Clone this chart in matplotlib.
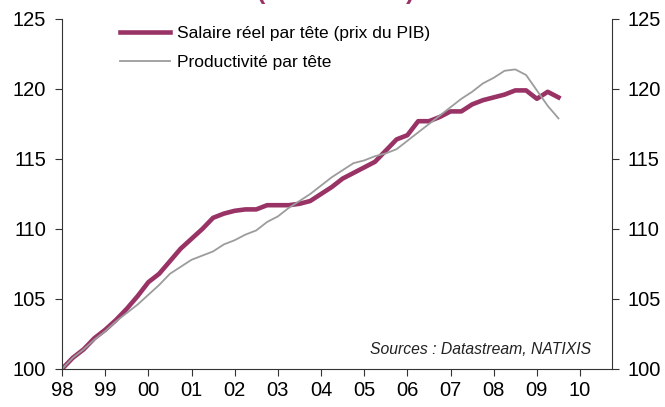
import numpy as np
import matplotlib.pyplot as plt

plt.rcParams['font.family'] = ['Liberation Sans', 'DejaVu Sans']

# trimestriel, 1998T1 -> 2009T3
quarters = 1998 + np.arange(47) / 4.0

salaire = [100.0, 100.8, 101.4, 102.2, 102.8, 103.5, 104.3, 105.2, 106.2, 106.8,
           107.7, 108.6, 109.3, 110.0, 110.8, 111.1, 111.3, 111.4, 111.4, 111.7,
           111.7, 111.7, 111.8, 112.0, 112.5, 113.0, 113.6, 114.0, 114.4, 114.8,
           115.6, 116.4, 116.7, 117.7, 117.7, 118.0, 118.4, 118.4, 118.9, 119.2,
           119.4, 119.6, 119.9, 119.9, 119.3, 119.8, 119.4]

productivite = [100.0, 100.8, 101.4, 102.1, 102.7, 103.4, 104.0, 104.6, 105.3, 106.0,
                106.8, 107.3, 107.8, 108.1, 108.4, 108.9, 109.2, 109.6, 109.9, 110.5,
                110.9, 111.5, 112.0, 112.5, 113.1, 113.7, 114.2, 114.7, 114.9, 115.2,
                115.4, 115.7, 116.3, 116.9, 117.5, 118.1, 118.7, 119.3, 119.8, 120.4,
                120.8, 121.3, 121.4, 121.0, 119.9, 118.8, 117.9]

years = list(range(1998, 2011))
year_labels = ['98', '99', '00', '01', '02', '03', '04', '05', '06', '07', '08', '09', '10']
yticks = [100, 105, 110, 115, 120, 125]

purple = '#993366'
grey = '#9C9C9C'
axis_col = '#333333'

fig = plt.figure(figsize=(6.65, 4.07), dpi=100)
ax = fig.add_axes([62 / 665, 1 - 369 / 407, 550 / 665, 350 / 407])

ax.plot(quarters, salaire, color=purple, lw=3.3, label='Salaire réel par tête (prix du PIB)',
        solid_joinstyle='round')
ax.plot(quarters, productivite, color=grey, lw=1.3, label='Productivité par tête')

ax.set_xlim(1998, 2010.74)
ax.set_ylim(100, 125)
ax.set_xticks(years)
ax.set_xticklabels(year_labels)
ax.set_yticks(yticks)

ax.spines['top'].set_visible(False)
ax.spines['right'].set_visible(False)
for s in ['left', 'bottom']:
    ax.spines[s].set_linewidth(0.8)
    ax.spines[s].set_color(axis_col)
ax.tick_params(axis='y', direction='out', length=5, width=0.8, color=axis_col,
               labelsize=14.5, pad=6.5)
ax.tick_params(axis='x', direction='out', length=5, width=0.8, color=axis_col,
               labelsize=14.5, pad=4)

ax2 = ax.twinx()
ax2.set_ylim(100, 125)
ax2.set_yticks(yticks)
for s in ['top', 'left', 'bottom']:
    ax2.spines[s].set_visible(False)
ax2.spines['right'].set_linewidth(0.8)
ax2.spines['right'].set_color(axis_col)
ax2.tick_params(axis='y', direction='out', length=5, width=0.8, color=axis_col,
                labelsize=14.5, pad=6.5)

leg = ax.legend(loc='upper left', bbox_to_anchor=(0.105, 0.981), frameon=False,
                fontsize=12.5, handlelength=2.9, handletextpad=0.4, labelspacing=0.8,
                borderpad=0, borderaxespad=0)

ax.text(0.962, 0.035, 'Sources : Datastream, NATIXIS', transform=ax.transAxes,
        ha='right', va='bottom', fontsize=11.3, style='italic', color='#222222')

# titre coupé en haut de l'image
fig.text(336 / 665, 1.0 + 1 / 407, '(100 en 1998)', ha='center', va='baseline',
         fontsize=18, fontweight='bold', color=purple)

fig.savefig('out.png', dpi=100)
